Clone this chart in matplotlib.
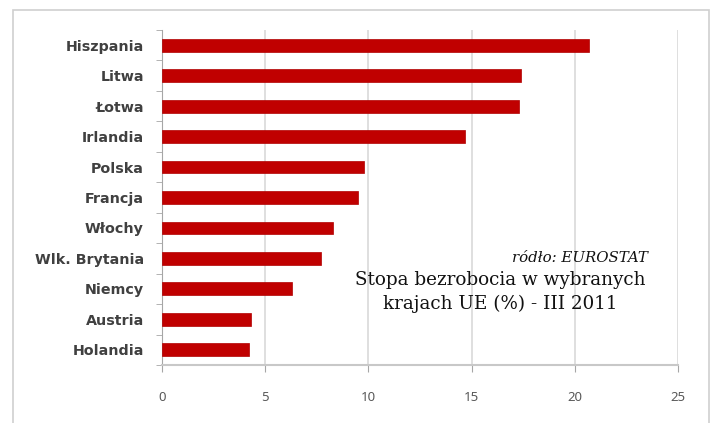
import matplotlib
matplotlib.use("Agg")
import matplotlib.pyplot as plt
from matplotlib.patches import Rectangle
import numpy as np

countries = ["Hiszpania", "Litwa", "Łotwa", "Irlandia", "Polska", "Francja",
             "Włochy", "Wlk. Brytania", "Niemcy", "Austria", "Holandia"]
values = [20.7, 17.4, 17.3, 14.7, 9.8, 9.5, 8.3, 7.7, 6.3, 4.3, 4.2]
xticks = [0, 5, 10, 15, 20, 25]

W, H = 716, 423
fig = plt.figure(figsize=(W/100, H/100), dpi=100)
fig.patch.set_facecolor("white")

# outer frame
fig.patches.append(Rectangle((13/W, -0.05), (709-13)/W, 1 - 10/H + 0.05,
                             transform=fig.transFigure, fill=False,
                             edgecolor="#cfcfcf", linewidth=1.2))

L, R, T, B = 162, 678, 30, 365
ax = fig.add_axes([L/W, 1 - B/H, (R-L)/W, (B-T)/H])
y = np.arange(len(countries))
ax.barh(y, values, height=0.42, color="#C00000", edgecolor="#B00000", linewidth=0.5, zorder=3)
ax.set_ylim(len(countries) - 0.5, -0.5)
ax.set_xlim(0, 25)
ax.set_xticks(xticks)
ax.set_xticklabels([str(t) for t in xticks], color="#595959", fontsize=9.5, family="Noto Sans")
ax.set_yticks(y)
ax.set_yticklabels(countries, fontsize=10.3, fontweight="bold", color="#404040", family="DejaVu Sans")
ax.set_yticks(np.arange(-0.5, len(countries), 1), minor=True)
ax.tick_params(axis="y", which="major", length=0, pad=13)
ax.tick_params(axis="y", which="minor", length=4, color="#a6a6a6", direction="out")
ax.tick_params(axis="x", which="major", length=5, color="#a6a6a6", pad=14)
ax.grid(axis="x", color="#d9d9d9", linewidth=1.2, zorder=0)
for s in ["top", "right"]:
    ax.spines[s].set_visible(False)
ax.spines["left"].set_color("#a6a6a6")
ax.spines["bottom"].set_color("#c8c8c8")
ax.spines["bottom"].set_linewidth(1.5)

fig.text(648/W, 1 - 258/H, "ródło: EUROSTAT", ha="right", va="center",
         fontsize=10.8, style="italic", family="DejaVu Serif", color="#111111")
fig.text(500/W, 1 - 292/H, "Stopa bezrobocia w wybranych\nkrajach UE (%) - III 2011",
         ha="center", va="center", fontsize=13.2, family="DejaVu Serif",
         color="#111111", linespacing=1.4)

fig.savefig("out.png", dpi=100)
